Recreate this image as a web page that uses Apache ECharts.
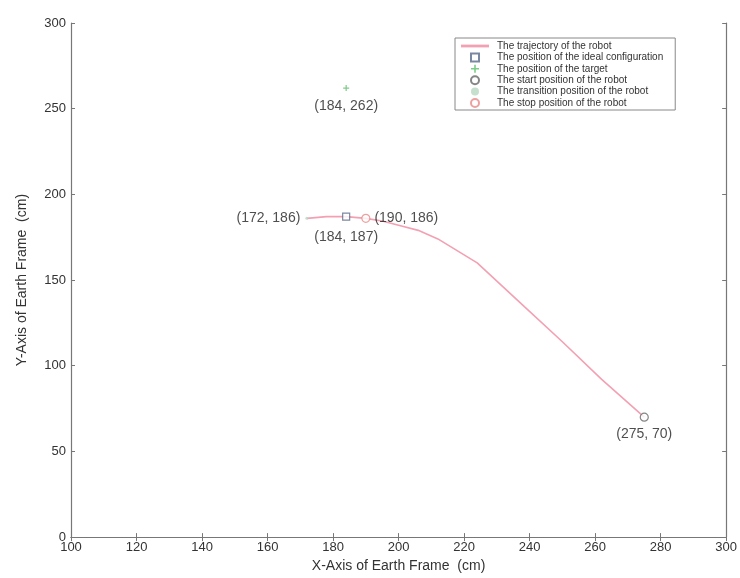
<!DOCTYPE html>
<html>
<head>
<meta charset="utf-8">
<script src="https://cdn.jsdelivr.net/npm/echarts@6/dist/echarts.min.js"></script>
<style>html,body{margin:0;padding:0;background:#fff}#c{width:740px;height:578px}</style>
</head>
<body>
<div id="c"></div>
<script>
// ---- data ----
const xTicks = [100, 120, 140, 160, 180, 200, 220, 240, 260, 280, 300];
const yTicks = [0, 50, 100, 150, 200, 250, 300];
const trajectoryX = [275, 262, 250, 237, 224, 218, 212, 206, 200, 195, 190, 184, 178, 172];
const trajectoryY = [70, 92, 114, 137, 160, 167, 174, 179, 182, 184.5, 186, 187, 187, 186];
const idealConfig = [184, 187];
const targetPos = [184, 262];
const startPos = [275, 70];
const transitionPos = [172, 186];
const stopPos = [190, 186];
const seriesNames = [
  'The trajectory of the robot',
  'The position of the ideal configuration',
  'The position of the target',
  'The start position of the robot',
  'The transition position of the robot',
  'The stop position of the robot'
];
const pointLabels = {
  ideal: '(184, 187)',
  target: '(184, 262)',
  start: '(275, 70)',
  transition: '(172, 186)',
  stop: '(190, 186)'
};
// ---- chart ----
const font = 'Liberation Sans, Arial, Helvetica, sans-serif';
const lbl = (text, pos, dist) => ({show: true, formatter: text, position: pos, color: '#222', fontSize: 14, fontFamily: font, distance: dist});
const plusPath = 'path://M4,0 L6,0 L6,4 L10,4 L10,6 L6,6 L6,10 L4,10 L4,6 L0,6 L0,4 L4,4 Z';
const squarePath = 'path://M0,0 L10,0 L10,10 L0,10 Z';
const chart = echarts.init(document.getElementById('c'));
const axisCommon = {
  axisLine: {show: true, lineStyle: {color: '#777', width: 1.2}},
  axisTick: {show: true, inside: true, length: 4, lineStyle: {color: '#777'}},
  splitLine: {show: false}
};
chart.setOption({
  animation: false,
  backgroundColor: '#fff',
  grid: {left: 71, right: 11, top: 23, bottom: 36},
  xAxis: [
    Object.assign({type: 'value', min: xTicks[0], max: xTicks[xTicks.length - 1], interval: xTicks[1] - xTicks[0],
      name: 'X-Axis of Earth Frame  (cm)', nameLocation: 'middle', nameGap: 20,
      nameTextStyle: {fontSize: 14, color: '#333', fontFamily: font},
      axisLabel: {fontSize: 13, color: '#333', fontFamily: font, margin: 4}}, axisCommon),
    Object.assign({type: 'value', position: 'top', min: xTicks[0], max: xTicks[xTicks.length - 1], interval: xTicks[1] - xTicks[0],
      axisLabel: {show: false}}, axisCommon)
  ],
  yAxis: [
    Object.assign({type: 'value', min: yTicks[0], max: yTicks[yTicks.length - 1], interval: yTicks[1] - yTicks[0],
      name: 'Y-Axis of Earth Frame  (cm)', nameLocation: 'middle', nameGap: 42, nameRotate: 90,
      nameTextStyle: {fontSize: 14, color: '#333', fontFamily: font},
      axisLabel: {fontSize: 13, color: '#333', fontFamily: font, margin: 5}}, axisCommon),
    Object.assign({type: 'value', position: 'right', min: yTicks[0], max: yTicks[yTicks.length - 1], interval: yTicks[1] - yTicks[0],
      axisLabel: {show: false}}, axisCommon)
  ],
  legend: {
    orient: 'vertical', left: 455, top: 38,
    backgroundColor: '#fff', borderColor: '#888', borderWidth: 1,
    padding: [3, 12, 2, 6], itemGap: 1.4, itemWidth: 28, itemHeight: 8,
    textStyle: {fontSize: 10, lineHeight: 10, color: '#333', fontFamily: font, padding: [0, 0, 0, 3]},
    data: [
      {name: seriesNames[0], icon: 'path://M0,5 L10,5 L10,6 L0,6 Z'},
      {name: seriesNames[1], icon: squarePath},
      {name: seriesNames[2], icon: plusPath},
      {name: seriesNames[3], icon: 'circle'},
      {name: seriesNames[4], icon: 'circle'},
      {name: seriesNames[5], icon: 'circle'}
    ]
  },
  series: [
    {name: seriesNames[0], type: 'line', data: trajectoryX.map((x, i) => [x, trajectoryY[i]]),
      symbol: 'none', smooth: false, lineStyle: {color: '#f3a0b2', width: 1.6}, itemStyle: {color: '#f3a0b2'}, z: 2},
    {name: seriesNames[1], type: 'scatter', data: [idealConfig], symbol: 'rect', symbolSize: 7,
      itemStyle: {color: '#fff', borderColor: '#5a6a8a', borderWidth: 1.2},
      label: lbl(pointLabels.ideal, 'bottom', 9), z: 4},
    {name: seriesNames[2], type: 'scatter', data: [targetPos], symbol: plusPath, symbolSize: 6,
      itemStyle: {color: '#5cbf6a'}, label: lbl(pointLabels.target, 'bottom', 8), z: 4},
    {name: seriesNames[3], type: 'scatter', data: [startPos], symbol: 'circle', symbolSize: 8,
      itemStyle: {color: '#fff', borderColor: '#666', borderWidth: 1.2},
      label: lbl(pointLabels.start, 'bottom', 5), z: 4},
    {name: seriesNames[4], type: 'scatter', data: [transitionPos], symbol: 'circle', symbolSize: 3,
      itemStyle: {color: '#b8d8c0'}, label: lbl(pointLabels.transition, 'left', 5), z: 4},
    {name: seriesNames[5], type: 'scatter', data: [stopPos], symbol: 'circle', symbolSize: 8,
      itemStyle: {color: '#fff', borderColor: '#e88888', borderWidth: 1.2},
      label: lbl(pointLabels.stop, 'right', 4), z: 3}
  ]
});
</script>
</body>
</html>
